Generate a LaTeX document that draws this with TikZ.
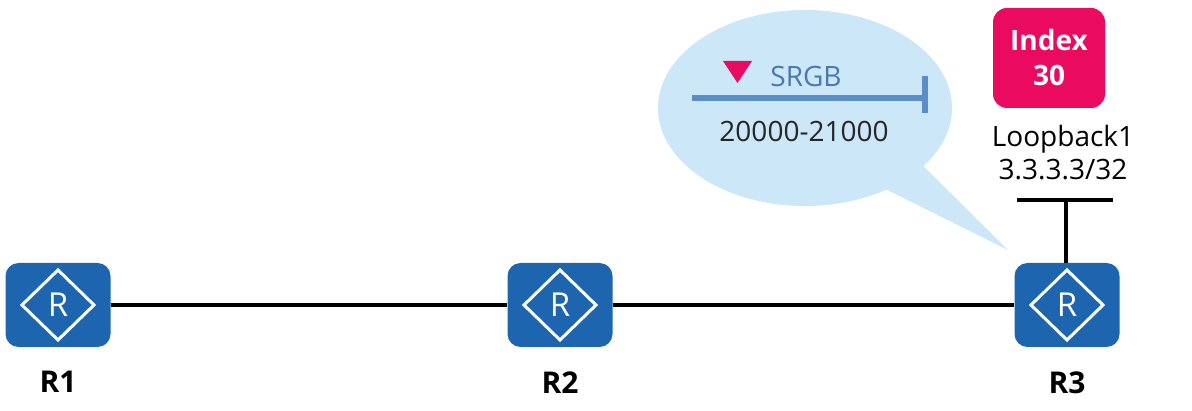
\documentclass[tikz,border=0pt]{standalone}
\usepackage{fontspec}
\setmainfont{Open Sans}
\usetikzlibrary{positioning,shapes.callouts}

\definecolor{routerblue}{HTML}{1E65B0}
\definecolor{bubbleblue}{HTML}{CCE7F7}
\definecolor{barblue}{HTML}{5B8EC7}
\definecolor{srgbtext}{HTML}{4A78B0}
\definecolor{indexpink}{HTML}{EA0A60}

\begin{document}
\begin{tikzpicture}[
  x=1pt, y=-1pt,
  router/.style = {
    shape=rectangle,
    rounded corners=13pt,
    fill=routerblue,
    minimum width=105pt,
    minimum height=84pt,
    path picture={
      \draw[white, line width=3pt, sharp corners]
        ([xshift=-36pt]path picture bounding box.center) --
        ([yshift=35pt]path picture bounding box.center) --
        ([xshift=36pt]path picture bounding box.center) --
        ([yshift=-35pt]path picture bounding box.center) -- cycle;
      \node[white, font=\fontsize{33}{33}\selectfont]
        at (path picture bounding box.center) {R};
    }
  },
  rlabel/.style = {font=\bfseries\fontsize{30}{30}\selectfont, inner sep=0pt},
  link/.style = {line width=4pt, black},
  bigtext/.style = {font=\fontsize{28}{33}\selectfont, align=center, inner sep=0pt}
]
\useasboundingbox (0,0) rectangle (1192,411);

% speech bubble with the SRGB range
\node[ellipse callout, fill=bubbleblue, inner sep=0pt,
      minimum width=294pt, minimum height=196pt,
      callout absolute pointer={(1008,250)}, callout pointer arc=20]
  (bubble) at (805,108) {};
\fill[indexpink] (723,61) -- (752,61) -- (737.5,83) -- cycle;
\draw[barblue, line width=6pt] (692,98) -- (925,98);
\draw[barblue, line width=6pt] (925,76) -- (925,113);
\node[bigtext, text=srgbtext] (srgb) at (806,77) {SRGB};
\node[bigtext, text=black!85] (range) at (804,131) {20000-21000};

% routers
\node[router] (r1) at (58,305) {};
\node[router] (r2) at (560,305) {};
\node[router] (r3) at (1067,305) {};

\node[rlabel, below=24pt of r1] (r1lbl) {R1};
\node[rlabel, below=24pt of r2] (r2lbl) {R2};
\node[rlabel, below=24pt of r3] (r3lbl) {R3};

\draw[link] (r1) -- (r2);
\draw[link] (r2) -- (r3);

% loopback interface on R3
\coordinate (lo) at (1066,200);
\coordinate (lo-l) at (1017,200);
\coordinate (lo-r) at (1113,200);
\draw[link] (r3.north -| lo) -- (lo);
\draw[link] (lo-l) -- (lo-r);
\node[bigtext] (lolbl) at (1063,153) {Loopback1\\3.3.3.3/32};

\node[fill=indexpink, rounded corners=14pt, minimum width=112pt,
      minimum height=100pt, text=white, font=\bfseries\fontsize{28}{35}\selectfont,
      align=center] (index) at (1049,58) {Index\\30};

\end{tikzpicture}
\end{document}
